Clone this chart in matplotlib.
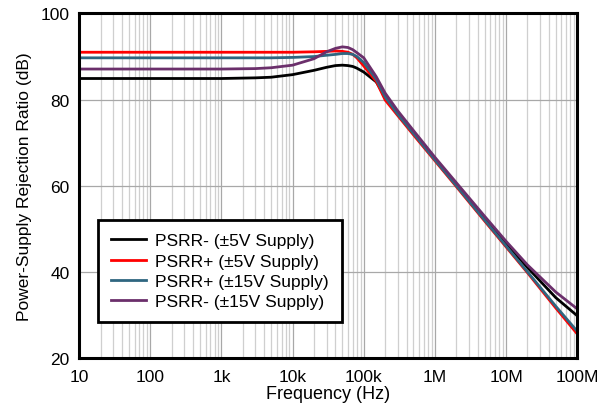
import matplotlib.pyplot as plt
from matplotlib.ticker import LogLocator, FixedLocator, FixedFormatter

plt.rcParams['font.family'] = ['Liberation Sans', 'DejaVu Sans']

# frequency points (Hz)
freq = [10, 100, 1e3, 3e3, 5e3, 1e4, 2e4, 3e4, 4e4, 5e4, 6e4, 7e4, 8e4, 1e5,
        1.5e5, 2e5, 3e5, 5e5, 1e6, 2e6, 5e6, 1e7, 2e7, 5e7, 1e8]

psrr_neg_5v = [84.9, 84.9, 84.9, 85.05, 85.2, 85.8, 86.8, 87.5, 87.9, 88.0, 87.9, 87.7, 87.3, 86.4,
               84.1, 80.6, 76.8, 72.4, 66.3, 60.3, 52.4, 46.6, 41.0, 34.0, 29.8]
psrr_pos_5v = [91.0, 91.0, 91.0, 91.0, 91.0, 91.0, 91.1, 91.2, 91.3, 91.2, 91.0, 90.5, 89.7, 87.8,
               84.2, 79.9, 76.3, 71.8, 65.8, 59.8, 51.8, 45.8, 39.8, 31.6, 25.6]
psrr_pos_15v = [89.7, 89.7, 89.7, 89.7, 89.7, 89.8, 90.0, 90.3, 90.5, 90.7, 90.7, 90.5, 90.0, 88.6,
                84.7, 80.6, 76.6, 72.1, 66.0, 60.0, 52.0, 46.0, 40.0, 32.0, 26.2]
psrr_neg_15v = [87.1, 87.1, 87.1, 87.2, 87.4, 88.0, 89.5, 91.1, 91.9, 92.25, 92.1, 91.6, 90.9, 89.7,
                85.3, 81.5, 77.4, 72.8, 66.6, 60.7, 52.9, 47.1, 41.6, 35.3, 31.4]

labels = ['PSRR- (\u00b15V Supply)', 'PSRR+ (\u00b15V Supply)',
          'PSRR+ (\u00b115V Supply)', 'PSRR- (\u00b115V Supply)']
colors = ['#000000', '#ff0000', '#2f6680', '#6b2f6b']

fig = plt.figure(figsize=(6, 4.14), dpi=100)
ax = fig.add_axes([0.132, 0.133, 0.830, 0.832])

for y, lab, c in zip([psrr_neg_5v, psrr_pos_5v, psrr_pos_15v, psrr_neg_15v], labels, colors):
    ax.plot(freq, y, color=c, lw=2, label=lab)

ax.set_xscale('log')
ax.set_xlim(10, 1e8)
ax.set_ylim(20, 100)
ax.xaxis.set_major_locator(FixedLocator([1e1, 1e2, 1e3, 1e4, 1e5, 1e6, 1e7, 1e8]))
ax.xaxis.set_major_formatter(FixedFormatter(['10', '100', '1k', '10k', '100k', '1M', '10M', '100M']))
ax.xaxis.set_minor_locator(LogLocator(base=10, subs=range(2, 10), numticks=20))
ax.set_yticks([20, 40, 60, 80, 100])

ax.grid(which='major', color='#a8a8a8', lw=0.9)
ax.grid(which='minor', axis='x', color='#cfcfcf', lw=0.9)
ax.tick_params(which='both', length=0, labelsize=12.5)
ax.tick_params(axis='x', pad=8)
ax.tick_params(axis='y', pad=7)
for s in ax.spines.values():
    s.set_linewidth(2.2)

ax.set_xlabel('Frequency (Hz)', fontsize=13, labelpad=1)
ax.set_ylabel('Power-Supply Rejection Ratio (dB)', fontsize=12.5, labelpad=6)

leg = ax.legend(loc='lower left', bbox_to_anchor=(0.02, 0.078), fontsize=12.5,
                fancybox=False, framealpha=1, edgecolor='black',
                handlelength=2.0, borderpad=0.75, labelspacing=0.3,
                handletextpad=0.55)
leg.get_frame().set_linewidth(2)

plt.savefig('out.png', dpi=100)
